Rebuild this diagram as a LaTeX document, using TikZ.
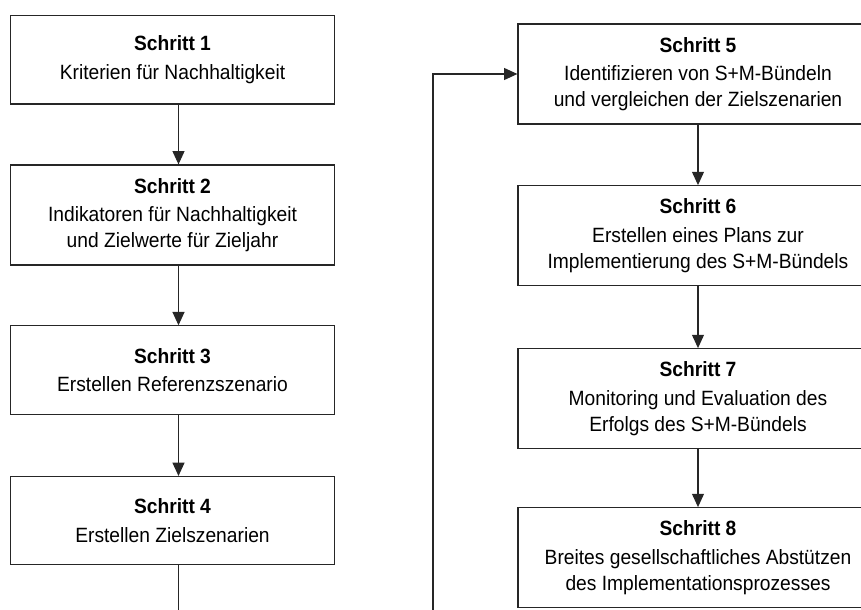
\documentclass[tikz,border=0pt]{standalone}
\usepackage{fontspec}
\setmainfont{Liberation Sans}[FakeStretch=0.93]
\usetikzlibrary{arrows.meta}
\begin{document}
\begin{tikzpicture}[x=0.75pt,y=-0.75pt,
  box/.style={draw=black!85,line width=0.9pt,rectangle,inner sep=0pt,align=center,
    font=\fontsize{15.5}{19.5}\selectfont},
  lbox/.style={box,minimum width=242.7pt},
  rbox/.style={box,minimum width=270pt,minimum height=75pt},
  arr/.style={draw=black!85,line width=0.9pt,-{Triangle[length=10pt,width=9pt]}},
  ln/.style={draw=black!85,line width=0.9pt}]
\useasboundingbox (0,0) rectangle (861,610);
\clip (0,0) rectangle (861,610);
% left column
\node[lbox,minimum height=66.2pt] (b1) at (172.5,59.9) {\textbf{Schritt 1}\\[2pt]Kriterien für Nachhaltigkeit};
\node[lbox,minimum height=75pt] (b2) at (172.5,215) {\textbf{Schritt 2}\\[2pt]Indikatoren für Nachhaltigkeit\\und Zielwerte für Zieljahr};
\node[lbox,minimum height=66.2pt] (b3) at (172.5,370) {\textbf{Schritt 3}\\[2pt]Erstellen Referenzszenario};
\node[lbox,minimum height=66.2pt] (b4) at (172.5,520.7) {\textbf{Schritt 4}\\[2pt]Erstellen Zielszenarien};
% right column
\node[rbox] (b5) at (698,74) {\textbf{Schritt 5}\\[2pt]Identifizieren von S+M-Bündeln\\und vergleichen der Zielszenarien};
\node[rbox] (b6) at (698,235.7) {\textbf{Schritt 6}\\[2pt]Erstellen eines Plans zur\\Implementierung des S+M-Bündels};
\node[rbox] (b7) at (698,398.7) {\textbf{Schritt 7}\\[2pt]Monitoring und Evaluation des\\Erfolgs des S+M-Bündels};
\node[rbox] (b8) at (698,557.7) {\textbf{Schritt 8}\\[2pt]Breites gesellschaftliches Abstützen\\des Implementationsprozesses};
\coordinate (bl) at (178.5,615);
\coordinate (br) at (433,615);
% connectors
\draw[arr] ([xshift=4.5pt]b1.south) -- ([xshift=4.5pt]b2.north);
\draw[arr] ([xshift=4.5pt]b2.south) -- ([xshift=4.5pt]b3.north);
\draw[arr] ([xshift=4.5pt]b3.south) -- ([xshift=4.5pt]b4.north);
\draw[ln] ([xshift=4.5pt]b4.south) -- (bl);
\draw[arr] (br) |- (b5.west);
\draw[arr] (b5) -- (b6);
\draw[arr] (b6) -- (b7);
\draw[arr] (b7) -- (b8);
\end{tikzpicture}
\end{document}
